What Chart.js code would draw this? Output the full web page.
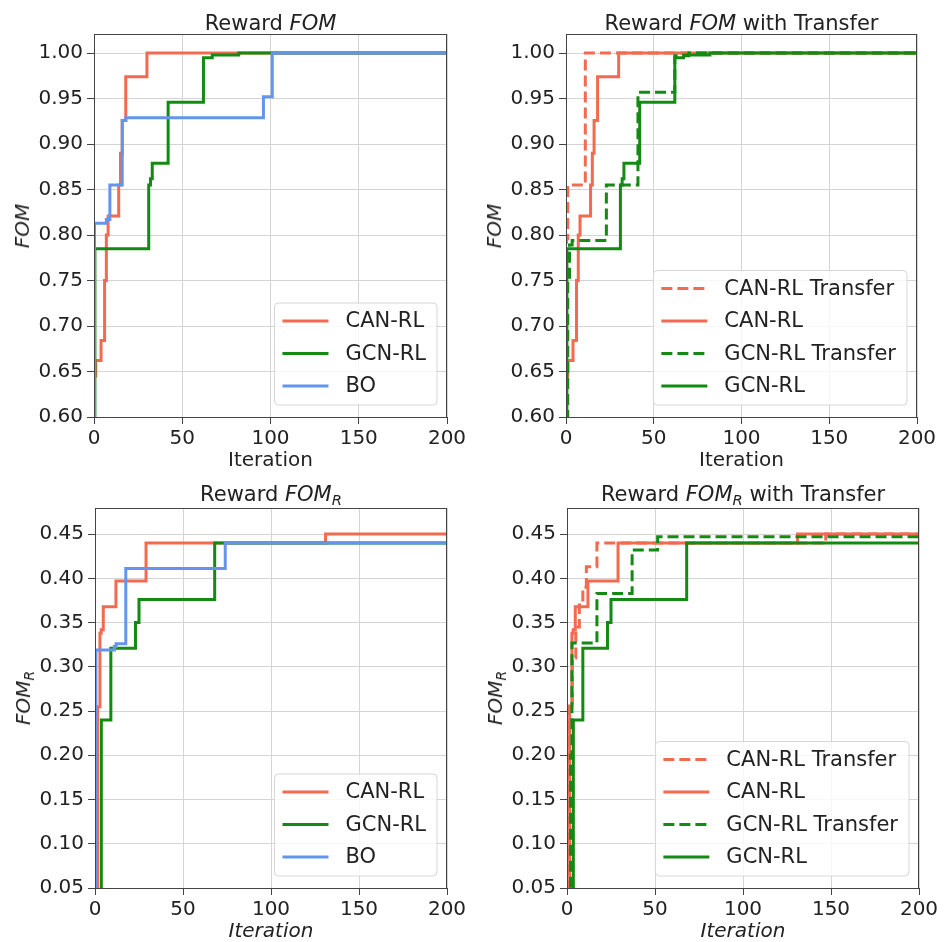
<!DOCTYPE html>
<html>
<head>
<meta charset="utf-8">
<script src="https://cdn.jsdelivr.net/npm/chart.js@4.4.0/dist/chart.umd.min.js"></script>
<style>
  body { margin: 0; background: #fff; }
  #fig { position: relative; width: 944px; height: 942px; overflow: hidden;
         font-family: 'DejaVu Sans', sans-serif; color: #222; }
  #fig canvas { position: absolute; }
  .lbl { position: absolute; transform: translate(-50%, -50%); white-space: nowrap;
         line-height: 1; font-size: 20px; }
  .ttl { font-size: 21px; }
  .ylab { transform: translate(-50%, -50%) rotate(-90deg); }
  .sub { font-size: 0.7em; position: relative; top: 0.3em; }
</style>
</head>
<body>
<div id="fig"></div>
<script>
// --- ticks ---
const iterTicks = [0, 50, 100, 150, 200];
const fomTicks = [0.60, 0.65, 0.70, 0.75, 0.80, 0.85, 0.90, 0.95, 1.00];
const fomRTicks = [0.05, 0.10, 0.15, 0.20, 0.25, 0.30, 0.35, 0.40, 0.45];

// --- Reward FOM (best value so far, listed at the iterations where it changes) ---
const fomCanX = [0, 1, 4, 6, 7, 8, 14, 15, 16, 18, 30, 200];
const fomCanY = [0.645, 0.662, 0.684, 0.75, 0.80, 0.821, 0.855, 0.89, 0.926, 0.974, 1.0, 1.0];
const fomGcnX = [0, 0.5, 31, 32, 33, 42, 62, 67, 82, 200];
const fomGcnY = [0.58, 0.785, 0.855, 0.862, 0.879, 0.946, 0.995, 0.998, 1.0, 1.0];
const fomBoX = [0, 0.3, 7, 9, 16, 18, 96, 101, 200];
const fomBoY = [0.58, 0.813, 0.817, 0.855, 0.926, 0.929, 0.952, 1.0, 1.0];
const fomCanTrX = [0, 0.3, 1, 11, 200];
const fomCanTrY = [0.58, 0.796, 0.855, 1.0, 1.0];
const fomGcnTrX = [0, 1, 2, 3.5, 23, 41, 62, 70, 200];
const fomGcnTrY = [0.58, 0.75, 0.789, 0.794, 0.855, 0.957, 0.997, 1.0, 1.0];

// --- Reward FOM_R ---
const fomRCanX = [0, 1.5, 2.8, 3.5, 4.7, 11.9, 29, 131, 200];
const fomRCanY = [0.03, 0.255, 0.338, 0.342, 0.368, 0.397, 0.44, 0.45, 0.45];
const fomRGcnX = [0, 3.6, 9, 23, 25, 68, 200];
const fomRGcnY = [0.0, 0.24, 0.321, 0.35, 0.376, 0.44, 0.44];
const fomRBoX = [0, 0.5, 11, 12, 17.5, 74, 200];
const fomRBoY = [0.0, 0.319, 0.323, 0.326, 0.411, 0.44, 0.44];
const fomRCanTrX = [0, 1, 3, 5, 7, 9, 11, 17, 147, 200];
const fomRCanTrY = [0.03, 0.26, 0.31, 0.345, 0.37, 0.39, 0.413, 0.44, 0.45, 0.45];
const fomRGcnTrX = [0, 2, 2.8, 17, 37, 51.5, 200];
const fomRGcnTrY = [0.0, 0.2, 0.327, 0.383, 0.432, 0.447, 0.447];

const RED = '#f26a4f';
const GREEN = '#138a13';
const BLUE = '#6495ed';
const FONT = "'DejaVu Sans', sans-serif";

const serie = (label, xs, ys, color, dashed) => ({ label, xs, ys, color, dashed });

// plot box = [left, top, right, bottom] of the axes frame in page pixels
const panels = [
  { box: [94, 34, 447, 417], yMin: 0.6, yMax: 1.021, yTicks: fomTicks,
    title: 'Reward <i>FOM</i>', titleY: 22.5, ylab: '<i>FOM</i>', xlab: 'Iteration',
    series: [serie('CAN-RL', fomCanX, fomCanY, RED, false),
             serie('GCN-RL', fomGcnX, fomGcnY, GREEN, false),
             serie('BO', fomBoX, fomBoY, BLUE, false)] },
  { box: [566, 34, 917, 417], yMin: 0.6, yMax: 1.021, yTicks: fomTicks,
    title: 'Reward <i>FOM</i> with Transfer', titleY: 22.5, ylab: '<i>FOM</i>', xlab: 'Iteration',
    series: [serie('CAN-RL Transfer', fomCanTrX, fomCanTrY, RED, true),
             serie('CAN-RL', fomCanX, fomCanY, RED, false),
             serie('GCN-RL Transfer', fomGcnTrX, fomGcnTrY, GREEN, true),
             serie('GCN-RL', fomGcnX, fomGcnY, GREEN, false)] },
  { box: [95, 508, 447, 888], yMin: 0.05, yMax: 0.4795, yTicks: fomRTicks,
    title: 'Reward <i>FOM</i><span class="sub"><i>R</i></span>', titleY: 493.5,
    ylab: '<i>FOM</i><span class="sub"><i>R</i></span>', xlab: '<i>Iteration</i>',
    series: [serie('CAN-RL', fomRCanX, fomRCanY, RED, false),
             serie('GCN-RL', fomRGcnX, fomRGcnY, GREEN, false),
             serie('BO', fomRBoX, fomRBoY, BLUE, false)] },
  { box: [567, 508, 919, 888], yMin: 0.05, yMax: 0.4795, yTicks: fomRTicks,
    title: 'Reward <i>FOM</i><span class="sub"><i>R</i></span> with Transfer', titleY: 493.5,
    ylab: '<i>FOM</i><span class="sub"><i>R</i></span>', xlab: '<i>Iteration</i>',
    series: [serie('CAN-RL Transfer', fomRCanTrX, fomRCanTrY, RED, true),
             serie('CAN-RL', fomRCanX, fomRCanY, RED, false),
             serie('GCN-RL Transfer', fomRGcnTrX, fomRGcnTrY, GREEN, true),
             serie('GCN-RL', fomRGcnX, fomRGcnY, GREEN, false)] }
];

const Y_AXIS_W = 94, X_AXIS_H = 40, PAD_TOP = 5, PAD_RIGHT = 25;

// frame around the axes + legend box in the lower right corner
const framePlugin = {
  id: 'frameLegend',
  afterDraw(chart) {
    const ctx = chart.ctx;
    const a = chart.chartArea;
    ctx.save();
    ctx.strokeStyle = '#444';
    ctx.lineWidth = 1;
    ctx.strokeRect(Math.round(a.left) + 0.5, Math.round(a.top) + 0.5,
                   Math.round(a.right - a.left) - 1, Math.round(a.bottom - a.top));

    const sets = chart.data.datasets;
    ctx.font = '21px ' + FONT;
    const textW = Math.max(...sets.map(d => ctx.measureText(d.label).width));
    const w = 71 + textW + 11;
    const h = 18 + (sets.length - 1) * 32.5 + 19;
    const x0 = a.right - 10 - w;
    const y0 = a.bottom - 12 - h;
    const r = 4;
    ctx.beginPath();
    ctx.moveTo(x0 + r, y0);
    ctx.arcTo(x0 + w, y0, x0 + w, y0 + h, r);
    ctx.arcTo(x0 + w, y0 + h, x0, y0 + h, r);
    ctx.arcTo(x0, y0 + h, x0, y0, r);
    ctx.arcTo(x0, y0, x0 + w, y0, r);
    ctx.closePath();
    ctx.fillStyle = 'rgba(255,255,255,0.8)';
    ctx.fill();
    ctx.strokeStyle = '#d6d6d6';
    ctx.stroke();

    sets.forEach((d, i) => {
      const y = y0 + 18 + i * 32.5;
      ctx.beginPath();
      ctx.strokeStyle = d.borderColor;
      ctx.lineWidth = 3;
      ctx.setLineDash(d.borderDash || []);
      ctx.moveTo(x0 + 8, y);
      ctx.lineTo(x0 + 54, y);
      ctx.stroke();
      ctx.setLineDash([]);
      ctx.fillStyle = '#222';
      ctx.textBaseline = 'middle';
      ctx.fillText(d.label, x0 + 71, y + 1);
    });
    ctx.restore();
  }
};

const fig = document.getElementById('fig');

const addLabel = (html, x, y, cls) => {
  const el = document.createElement('div');
  el.className = 'lbl ' + (cls || '');
  el.innerHTML = html;
  el.style.left = x + 'px';
  el.style.top = y + 'px';
  fig.appendChild(el);
};

panels.forEach(p => {
  const [L, T, R, B] = p.box;
  const canvas = document.createElement('canvas');
  canvas.width = Y_AXIS_W + (R - L) + PAD_RIGHT;
  canvas.height = PAD_TOP + (B - T) + X_AXIS_H;
  canvas.style.left = (L - Y_AXIS_W) + 'px';
  canvas.style.top = (T - PAD_TOP) + 'px';
  fig.appendChild(canvas);

  addLabel(p.title, (L + R) / 2, p.titleY, 'ttl');
  addLabel(p.xlab, (L + R) / 2, B + 42);
  addLabel(p.ylab, L - 72, (T + B) / 2, 'ylab');

  const tickFont = { family: FONT, size: 20 };

  new Chart(canvas, {
    type: 'line',
    data: {
      // later series on top, as in the original figure
      datasets: p.series.map((s, i) => ({
        label: s.label,
        data: s.xs.map((x, j) => ({ x, y: s.ys[j] })),
        borderColor: s.color,
        borderWidth: 3,
        borderDash: s.dashed ? [11, 5] : [],
        pointRadius: 0,
        stepped: true,
        fill: false,
        order: -i
      }))
    },
    options: {
      responsive: false,
      animation: false,
      devicePixelRatio: 1,
      layout: { padding: { top: PAD_TOP, right: PAD_RIGHT, left: 0, bottom: 0 } },
      plugins: { legend: { display: false }, tooltip: { enabled: false } },
      scales: {
        x: {
          type: 'linear', min: 0, max: 200,
          afterBuildTicks: s => { s.ticks = iterTicks.map(v => ({ value: v })); },
          afterFit: s => { s.height = X_AXIS_H; s.paddingLeft = 0; s.paddingRight = 0; },
          ticks: { font: tickFont, color: '#222', padding: 3, maxRotation: 0,
                   callback: v => String(v) },
          grid: { color: '#d4d4d4', lineWidth: 1, tickColor: '#444', tickLength: 7 },
          border: { display: true, color: '#444', width: 1 }
        },
        y: {
          type: 'linear', min: p.yMin, max: p.yMax,
          afterBuildTicks: s => { s.ticks = p.yTicks.map(v => ({ value: v })); },
          afterFit: s => { s.width = Y_AXIS_W; s.paddingTop = 0; s.paddingBottom = 0; },
          ticks: { font: tickFont, color: '#222', padding: 4,
                   callback: v => Number(v).toFixed(2) },
          grid: { color: '#d4d4d4', lineWidth: 1, tickColor: '#444', tickLength: 7 },
          border: { display: true, color: '#444', width: 1 }
        }
      }
    },
    plugins: [framePlugin]
  });
});
</script>
</body>
</html>
